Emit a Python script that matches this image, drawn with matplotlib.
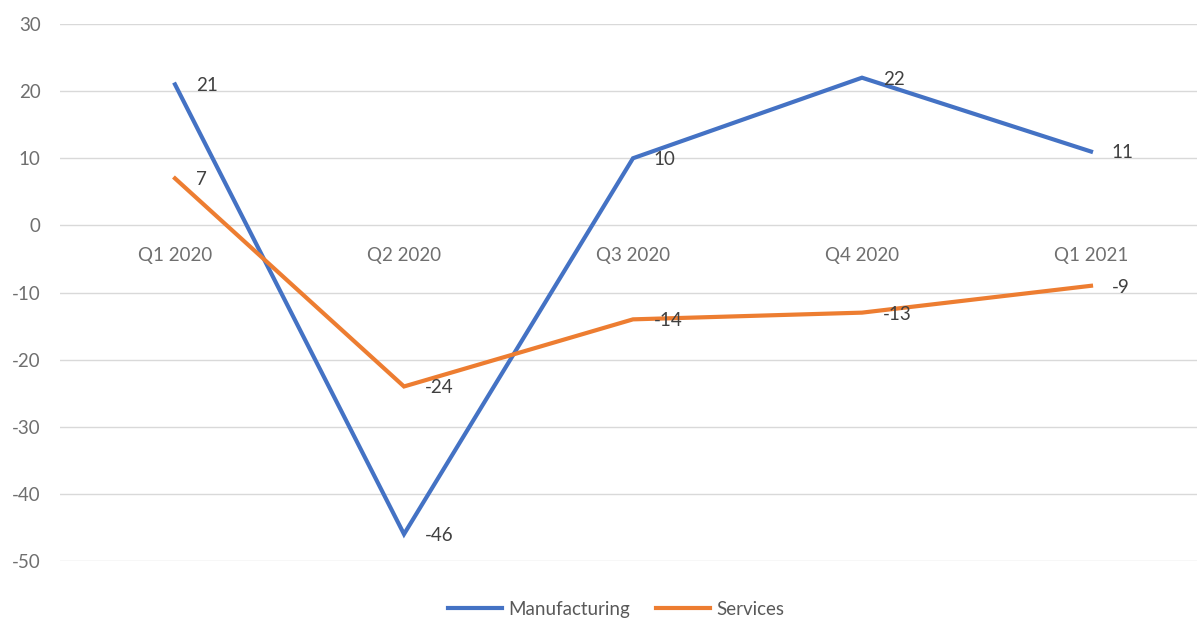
import matplotlib.pyplot as plt

# Quarterly balance values by sector
quarters = ["Q1 2020", "Q2 2020", "Q3 2020", "Q4 2020", "Q1 2021"]
manufacturing = [21, -46, 10, 22, 11]
services = [7, -24, -14, -13, -9]
y_ticks = [30, 20, 10, 0, -10, -20, -30, -40, -50]

plt.rcParams["font.family"] = ["Lato", "DejaVu Sans"]
plt.rcParams["axes.unicode_minus"] = False
FS = 13.5

fig = plt.figure(figsize=(11.97, 6.18), dpi=100)
ax = fig.add_axes([60 / 1197, 1 - 561 / 618, 1 - 60 / 1197, (561 - 24) / 618])

x = list(range(len(quarters)))
ax.plot(x, manufacturing, color="#4472C4", lw=3, label="Manufacturing",
        solid_joinstyle="miter", zorder=3)
ax.plot(x, services, color="#ED7D31", lw=3, label="Services",
        solid_joinstyle="miter", zorder=3)

# value labels to the right of each point
for series in (manufacturing, services):
    for xi, v in zip(x, series):
        ax.annotate(str(v), (xi, v), xytext=(15, -1), textcoords="offset points",
                    ha="left", va="center", fontsize=FS, color="#404040", zorder=4)

ax.set_xlim(-115 / 229, (1197 - 175) / 229)
ax.set_ylim(-50, 30)
ax.set_yticks(y_ticks)
ax.yaxis.grid(True, color="#D9D9D9", lw=1)
ax.set_axisbelow(True)
ax.tick_params(axis="y", length=0, pad=14, labelsize=FS, labelcolor="#6F6F6F")
ax.set_xticks([])
for s in ax.spines.values():
    s.set_visible(False)

# category labels sit just under the zero line
for xi, q in zip(x, quarters):
    ax.text(xi, -4.5, q, ha="center", va="center", fontsize=FS, color="#6F6F6F")

ax.legend(loc="center", bbox_to_anchor=(556 / 1137, -0.09), ncol=2, frameon=False,
          fontsize=FS, handlelength=2.9, handletextpad=0.3, columnspacing=1.4,
          labelcolor="#595959")

fig.savefig("out.png", dpi=100, facecolor="white")
